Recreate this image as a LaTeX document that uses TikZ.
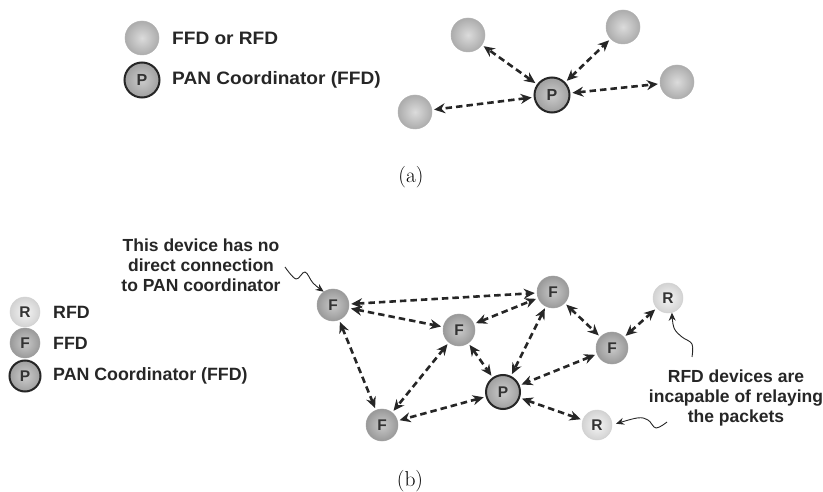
\documentclass[tikz,border=0pt]{standalone}
\usepackage{fontspec}
\setsansfont{Liberation Sans}
\newfontfamily\widesans[FakeStretch=1.06]{Liberation Sans}
\usetikzlibrary{arrows.meta}
\begin{document}
\begin{tikzpicture}[x=1pt,y=-1pt,
  dev/.style={circle, inner sep=0pt, shading=radial, text=black!80,
    font=\sffamily\bfseries\fontsize{15.5}{15.5}\selectfont},
  anydev/.style={dev, minimum size=34pt, draw=gray!60, line width=0.5pt,
    inner color=gray!28, outer color=gray!65},
  coordA/.style={dev, minimum size=35pt, draw=black!85, line width=2pt,
    inner color=gray!40, outer color=gray!75, font=\sffamily\bfseries\fontsize{16}{16}\selectfont},
  ffd/.style={dev, minimum size=32pt, draw=gray!75, line width=0.5pt,
    inner color=gray!42, outer color=gray!80},
  rfd/.style={dev, minimum size=30pt, draw=gray!35, line width=0.5pt,
    inner color=gray!8, outer color=gray!35},
  pan/.style={dev, minimum size=34pt, draw=black!85, line width=2pt,
    inner color=gray!40, outer color=gray!75},
  lbl/.style={font=\sffamily\bfseries\fontsize{17.5}{20}\selectfont, text=black!85, inner sep=0pt},
  legA/.style={font=\widesans\bfseries\fontsize{18}{20}\selectfont, text=black!85, inner sep=0pt, anchor=west},
  legB/.style={font=\sffamily\bfseries\fontsize{17.8}{20}\selectfont, text=black!85, inner sep=0pt, anchor=west},
  sublabel/.style={font=\fontsize{21.5}{24}\selectfont, inner sep=0pt},
  conn/.style={draw=black!85, line width=2.6pt, dash pattern=on 6.5pt off 4pt,
    {Stealth[length=11pt,width=10pt]}-{Stealth[length=11pt,width=10pt]},
    shorten <=2pt, shorten >=2pt},
  wave/.style={draw=black!85, line width=0.9pt, -{Stealth[length=8pt,width=7pt]}}
]
\useasboundingbox (0,0) rectangle (823,492);

% ---------- (a) star topology ----------
\node[anydev] (la1) at (142,38) {};
\node[legA] (lt1) at (172,38) {FFD or RFD};
\node[coordA] (la2) at (142,80) {P};
\node[legA] (lt2) at (172,80) {PAN Coordinator (FFD)};

\node[anydev] (a1) at (468,35) {};
\node[anydev] (a2) at (623,27) {};
\node[anydev] (a3) at (677,82) {};
\node[anydev] (a4) at (415,112) {};
\node[coordA] (ap) at (552,95) {P};

\draw[conn] (ap) -- (a1);
\draw[conn] (ap) -- (a2);
\draw[conn] (ap) -- (a3);
\draw[conn] (ap) -- (a4);

\node[sublabel] (capa) at (411,177) {(a)};

% ---------- (b) mesh topology ----------
\node[rfd] (lb1) at (25,312) {R};
\node[legB] (lbt1) at (53,312) {RFD};
\node[ffd, minimum size=30pt] (lb2) at (25,343) {F};
\node[legB] (lbt2) at (53,343) {FFD};
\node[pan, minimum size=31pt] (lb3) at (25,376) {P};
\node[legB] (lbt3) at (53,376) {PAN Coordinator (FFD)};

\node[lbl, align=center] (note1) at (201,265)
  {This device has no\\direct connection\\to PAN coordinator};
\node[lbl, align=center] (note2) at (736,398)
  {RFD devices are\\incapable of relaying\\the packets};

\node[ffd] (f1) at (333,305) {F};
\node[ffd] (f2) at (459,330) {F};
\node[ffd] (f3) at (382,425) {F};
\node[ffd] (f4) at (553,292) {F};
\node[ffd] (f5) at (612,348) {F};
\node[pan] (p)  at (503,392) {P};
\node[rfd] (r1) at (668,298) {R};
\node[rfd] (r2) at (597,425) {R};

\draw[conn] (f1) -- (f4);
\draw[conn] (f1) -- (f2);
\draw[conn] (f1) -- (f3);
\draw[conn] (f2) -- (f4);
\draw[conn] (f2) -- (f3);
\draw[conn] (f2) -- (p);
\draw[conn] (f4) -- (p);
\draw[conn] (f4) -- (f5);
\draw[conn] (f5) -- (p);
\draw[conn] (f5) -- (r1);
\draw[conn] (p) -- (r2);
\draw[conn] (p) -- (f3);

% squiggly pointers from the notes
\coordinate (w1) at (285,267);
\coordinate (w2) at (692,357);
\coordinate (w3) at (667,422);
\draw[wave] plot[smooth, tension=0.6] coordinates {(w1) (296,279) (305,272) (313,283) (f1.125)};
\draw[wave] plot[smooth, tension=0.6] coordinates {(w2) (692,344) (682,337) (674,328) (r1.-75)};
\draw[wave, shorten >=4pt] plot[smooth, tension=0.6] coordinates {(w3) (656,428) (648,420) (637,418) (r2.east)};

\node[sublabel] (capb) at (410,481) {(b)};
\end{tikzpicture}
\end{document}
